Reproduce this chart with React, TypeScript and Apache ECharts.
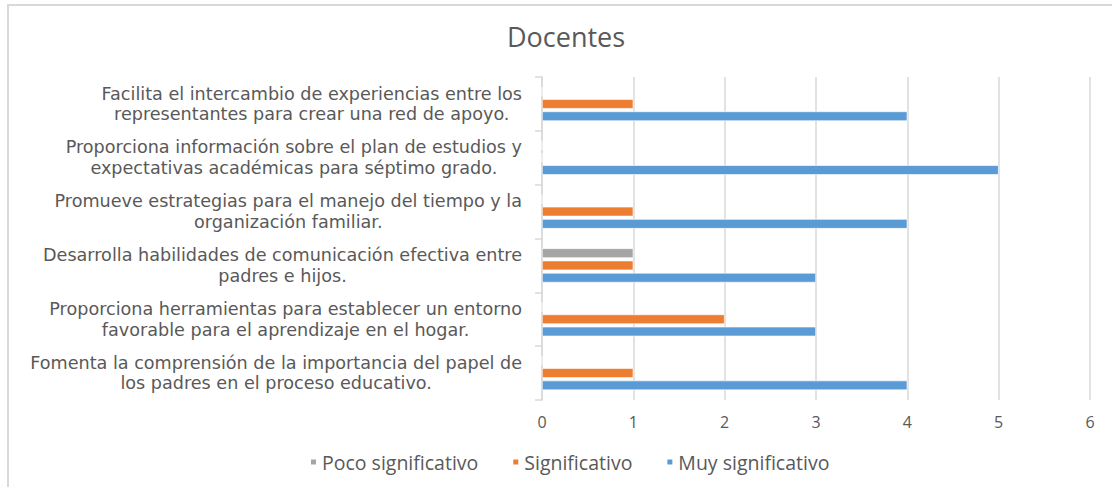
import React, { useEffect, useRef } from "react";
import * as echarts from "echarts";

const categories: string[] = [
  "Fomenta la comprensión de la importancia del papel de\nlos padres en el proceso educativo.",
  "Proporciona herramientas para establecer un entorno\nfavorable para el aprendizaje en el hogar.",
  "Desarrolla habilidades de comunicación efectiva entre\npadres e hijos.",
  "Promueve estrategias para el manejo del tiempo y la\norganización familiar.",
  "Proporciona información sobre el plan de estudios y\nexpectativas académicas para séptimo grado.",
  "Facilita el intercambio de experiencias entre los\nrepresentantes para crear una red de apoyo.",
];

const seriesNames: string[] = ["Poco significativo", "Significativo", "Muy significativo"];
const pocoSignificativo: number[] = [0, 0, 1, 0, 0, 0];
const significativo: number[] = [1, 2, 1, 1, 0, 1];
const muySignificativo: number[] = [4, 3, 3, 4, 5, 4];
const seriesColors: string[] = ["#a5a5a5", "#ed7d31", "#5b9bd5"];
const titleText = "Docentes";

const TEXT = "#595959";
const GRID = "#d9d9d9";
const LABEL_FONT = "DejaVu Sans";

export default function App() {
  const ref = useRef<HTMLDivElement>(null);
  useEffect(() => {
    document.body.style.margin = "0";
    if (!ref.current) return;
    const chart = echarts.init(ref.current, undefined, { renderer: "svg" });
    const values = [pocoSignificativo, significativo, muySignificativo];
    chart.setOption({
      animation: false,
      backgroundColor: "#ffffff",
      title: {
        text: titleText,
        left: 507,
        top: 20,
        padding: 0,
        textStyle: {
          color: TEXT,
          fontSize: 27,
          fontWeight: "normal",
          fontFamily: "Open Sans",
          lineHeight: 32,
        },
      },
      graphic: [
        {
          type: "rect",
          shape: { x: 8, y: 5, width: 1200, height: 600 },
          style: { fill: "none", stroke: GRID, lineWidth: 2 },
          silent: true,
        },
      ],
      legend: {
        data: seriesNames,
        left: 309,
        top: 451,
        padding: 0,
        itemWidth: 7,
        itemHeight: 7,
        itemGap: 33,
        icon: "rect",
        textStyle: {
          color: TEXT,
          fontSize: 19.5,
          fontFamily: "Open Sans",
          lineHeight: 22,
        },
      },
      grid: { left: 542, right: 22, top: 77, bottom: 87, containLabel: false },
      xAxis: {
        type: "value",
        min: 0,
        max: 6,
        interval: 1,
        axisLine: { show: false },
        axisTick: { show: false },
        splitLine: { show: true, lineStyle: { color: GRID, width: 1.5 } },
        axisLabel: { color: TEXT, fontSize: 16, fontFamily: "Open Sans", margin: 14 },
      },
      yAxis: {
        type: "category",
        data: categories,
        axisLine: { show: true, lineStyle: { color: GRID, width: 1.5 } },
        axisTick: { show: true, length: 7, lineStyle: { color: GRID, width: 1.5 } },
        axisLabel: {
          margin: 20,
          color: TEXT,
          fontSize: 17.6,
          fontFamily: LABEL_FONT,
          lineHeight: 20.6,
          formatter: (v: string) =>
            v
              .split("\n")
              .map((l) => `{c|${l}}`)
              .join("\n"),
          rich: {
            c: {
              align: "center",
              color: TEXT,
              fontSize: 17.6,
              fontFamily: LABEL_FONT,
              lineHeight: 20.6,
            },
          },
        },
      },
      series: seriesNames.map((name, i) => ({
        name,
        type: "bar",
        data: values[i],
        barWidth: 9.6,
        barGap: "28%",
        itemStyle: { color: seriesColors[i], borderColor: "#ffffff", borderWidth: 0.6 },
      })),
    });
    return () => chart.dispose();
  }, []);
  return (
    <div
      ref={ref}
      style={{ position: "absolute", left: 0, top: 0, width: 1112, height: 487 }}
    />
  );
}
